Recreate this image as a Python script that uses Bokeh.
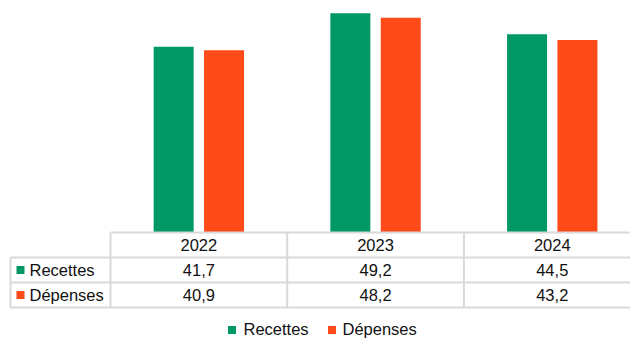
from bokeh.plotting import figure
from bokeh.models import Range1d
from bokeh.core.properties import value
from bokeh.embed import file_html
from bokeh.resources import INLINE

# ---- data ----
years = ["2022", "2023", "2024"]
series = ["Recettes", "Dépenses"]
recettes = [41.7, 49.2, 44.5]
depenses = [40.9, 48.2, 43.2]
colors = ["#009966", "#FF4A1A"]

# ---- layout constants (pixels) ----
WIDTH, HEIGHT = 630, 338
BASE_PX = 232.0      # pixel row of value 0
K = 4.455            # pixels per unit
COL_X0 = 110.0       # pixel where first year column starts
COL_W = 176.7        # pixel width of one year column
ROW_H = 25.0
LEFT_X = 10.0
FONT = value("Liberation Sans")
FS = "16.5px"
GRID = "#D9D9D9"
TXT = "#111111"

def ypx(py):
    return (BASE_PX - py) / K

def xpx(px):
    return (px - COL_X0) / COL_W

p = figure(width=WIDTH, height=HEIGHT,
           x_range=Range1d(xpx(0), xpx(WIDTH)),
           y_range=Range1d(ypx(HEIGHT), ypx(0)),
           output_backend="svg", toolbar_location=None,
           x_axis_location=None, y_axis_location=None,
           min_border=0, min_border_left=0, min_border_right=0,
           min_border_top=0, min_border_bottom=0,
           outline_line_color=None, background_fill_color="white",
           border_fill_color="white")
p.grid.visible = False

# ---- bars ----
n = len(years)
centers = [i + 0.5 for i in range(n)]
bw = 40.0 / COL_W
off = 25.2 / COL_W
p.vbar(x=[c - off for c in centers], top=recettes, bottom=0, width=bw,
       fill_color=colors[0], line_color=None)
p.vbar(x=[c + off for c in centers], top=depenses, bottom=0, width=bw,
       fill_color=colors[1], line_color=None)

# ---- table grid ----
x_right = xpx(WIDTH + 20)
x_left = xpx(LEFT_X)
x_c0 = 0.0
rows_px = [BASE_PX + ROW_H * j for j in range(4)]
xs_lines, ys_lines = [], []
xs_lines.append([x_c0, x_right]); ys_lines.append([ypx(rows_px[0])] * 2)
for py in rows_px[1:]:
    xs_lines.append([x_left, x_right]); ys_lines.append([ypx(py)] * 2)
xs_lines.append([x_left, x_left]); ys_lines.append([ypx(rows_px[1]), ypx(rows_px[3])])
for i in range(n):
    xs_lines.append([float(i), float(i)]); ys_lines.append([ypx(rows_px[0]), ypx(rows_px[3])])
p.multi_line(xs=xs_lines, ys=ys_lines, line_color=GRID, line_width=2)

# ---- table texts ----
def fmt(v):
    return f"{v:.1f}".replace(".", ",")

row_mid = [ypx(rows_px[j] + ROW_H / 2) for j in range(3)]
tx, ty, tt = [], [], []
for i, yr in enumerate(years):
    tx.append(centers[i]); ty.append(row_mid[0]); tt.append(yr)
    tx.append(centers[i]); ty.append(row_mid[1]); tt.append(fmt(recettes[i]))
    tx.append(centers[i]); ty.append(row_mid[2]); tt.append(fmt(depenses[i]))
p.text(x=tx, y=ty, text=tt, text_align="center", text_baseline="middle",
       text_font=FONT, text_font_size=FS, text_color=TXT)

# row labels with swatches
p.scatter(x=[xpx(20)] * 2, y=[row_mid[1], row_mid[2]], marker="square", size=8,
          fill_color=colors, line_color=None)
p.text(x=[xpx(29)] * 2, y=[row_mid[1], row_mid[2]], text=series,
       text_align="left", text_baseline="middle",
       text_font=FONT, text_font_size=FS, text_color=TXT)

# ---- bottom legend ----
leg_y = ypx(328.0)
p.scatter(x=[xpx(231.5), xpx(331.5)], y=[ypx(329.5)] * 2, marker="square", size=8,
          fill_color=colors, line_color=None)
p.text(x=[xpx(243), xpx(342)], y=[leg_y] * 2, text=series,
       text_align="left", text_baseline="middle",
       text_font=FONT, text_font_size=FS, text_color=TXT)

open("out.html", "w").write(file_html(p, INLINE))
